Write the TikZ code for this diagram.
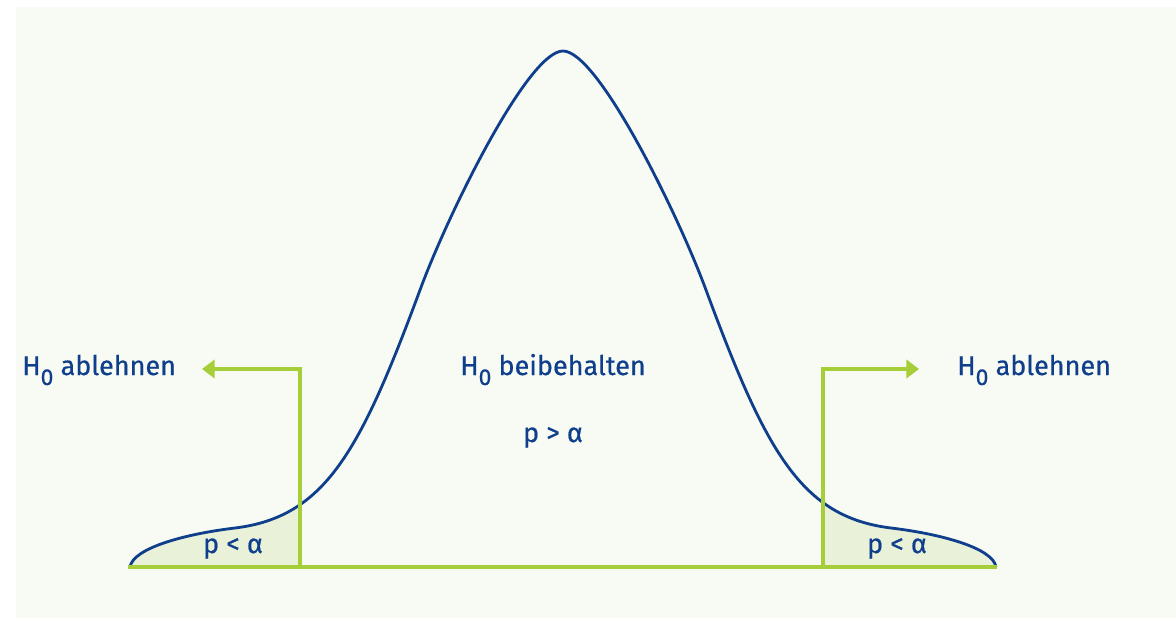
\documentclass[tikz,border=0pt]{standalone}
\usepackage{fontspec}
\setmainfont{Fira Sans}
\newfontfamily\labelfont{Fira Sans}[FakeBold=0.6]
\usetikzlibrary{arrows.meta}
\definecolor{navy}{HTML}{0F3F8C}
\definecolor{lime}{HTML}{A6CE39}
\definecolor{paleleaf}{HTML}{E9F2D8}
\definecolor{paper}{HTML}{F8FBF3}
\newcommand{\Hnull}{H\raisebox{-0.7ex}{\scalebox{0.85}{0}}}
\def\bellcurve{(130,567) .. controls (133,548) and (185,534) .. (235,528)
    .. controls (325,517) and (360,452) .. (420,290)
    .. controls (448,214) and (528,51) .. (563,51)
    .. controls (598,51) and (678,214) .. (706,290)
    .. controls (766,452) and (801,517) .. (891,528)
    .. controls (941,534) and (993,548) .. (996,567)}
\tikzset{
    bellline/.style={draw=navy, line width=2pt, line join=round},
    tailfill/.style={fill=paleleaf},
    axisline/.style={draw=lime, line width=3.5pt},
    cutarrow/.style={draw=lime, line width=2.3pt, -{Triangle[length=9pt, width=13pt]}},
    decisiontext/.style={text=navy, font=\labelfont\fontsize{19.2}{23}\selectfont, inner sep=0pt},
    ptext/.style={decisiontext}
}
\begin{document}
\begin{tikzpicture}[x=0.025cm, y=-0.025cm]
    \useasboundingbox (0,0) rectangle (1176,618);
    \fill[paper] (16,7) rectangle (1176,618);

    % shaded tails
    \begin{scope}
        \clip (120,300) rectangle (300,567);
        \fill[tailfill] \bellcurve;
    \end{scope}
    \begin{scope}
        \clip (823,300) rectangle (1000,567);
        \fill[tailfill] \bellcurve;
    \end{scope}

    \draw[bellline] \bellcurve;

    \coordinate (lcut) at (300,567);
    \coordinate (ltip) at (202,369);
    \coordinate (rcut) at (823,567);
    \coordinate (rtip) at (919,369);
    \coordinate (axisL) at (128,567);
    \coordinate (axisR) at (997,567);

    \draw[cutarrow] (lcut) |- (ltip);
    \draw[cutarrow] (rcut) |- (rtip);
    \draw[axisline] (axisL) -- (axisR);

    \node[decisiontext, anchor=base west] (rejectL) at (22,375) {\Hnull\ ablehnen};
    \node[decisiontext, anchor=base west] (rejectR) at (957,375) {\Hnull\ ablehnen};
    \node[decisiontext, anchor=base] (keep) at (553,375) {\Hnull\ beibehalten};
    \node[ptext, anchor=base] (pkeep) at (553,442) {p > α};
    \node[ptext, anchor=base] (ptailL) at (233,553) {p < α};
    \node[ptext, anchor=base] (ptailR) at (897,553) {p < α};
\end{tikzpicture}
\end{document}
